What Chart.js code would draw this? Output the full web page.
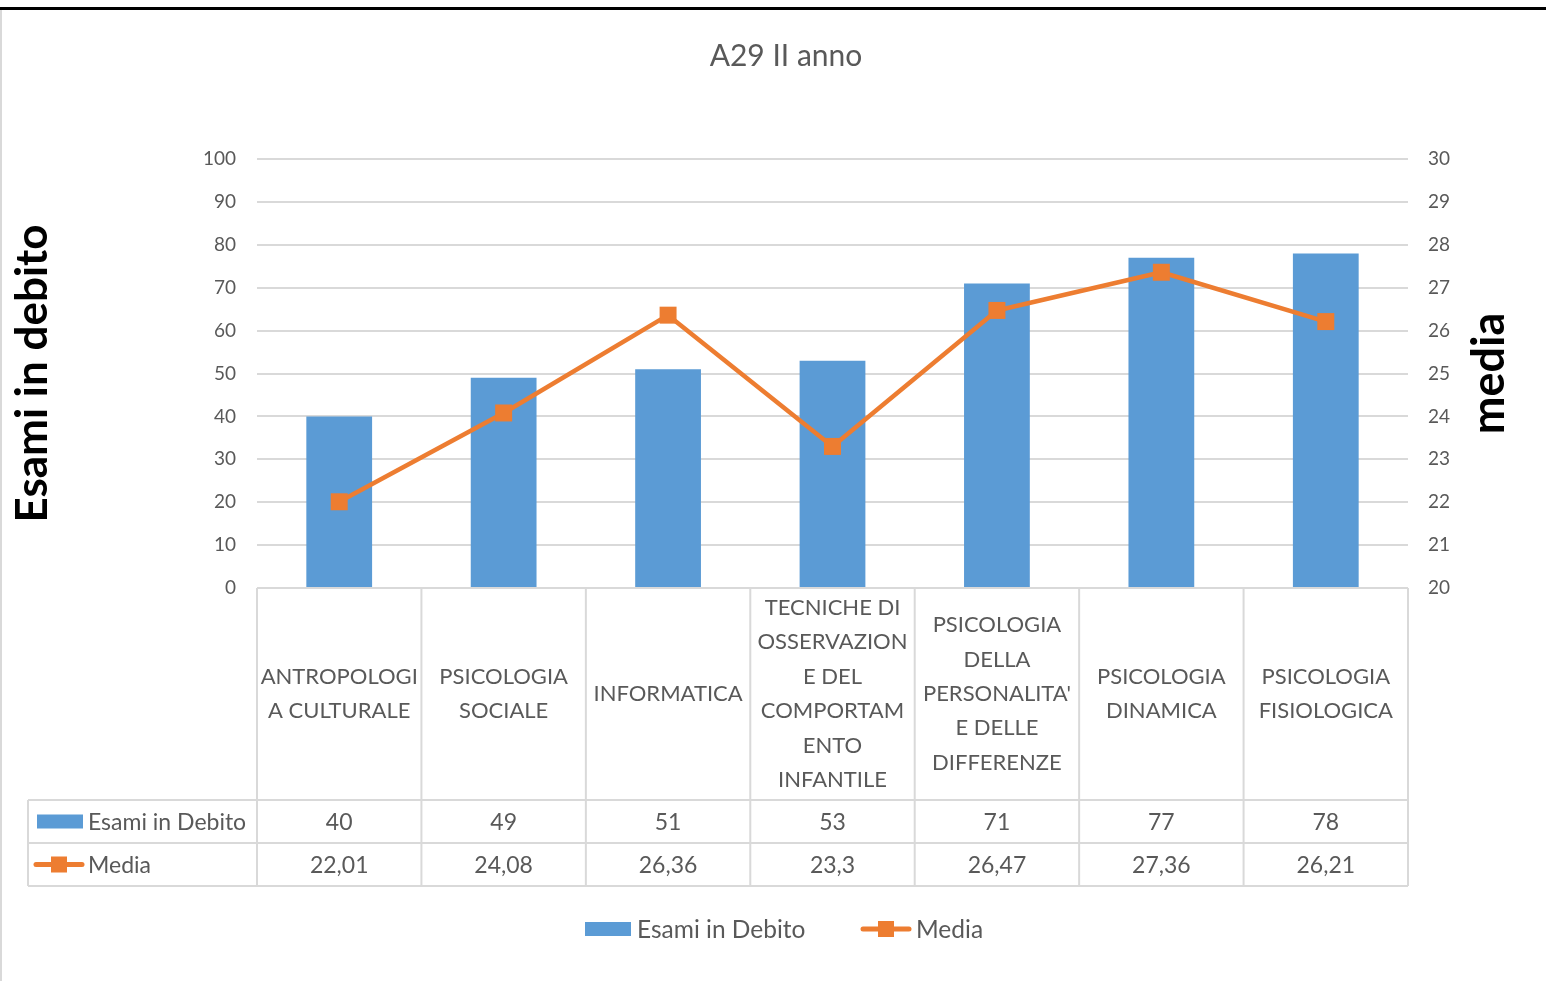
<!DOCTYPE html>
<html>
<head>
<meta charset="utf-8">
<script src="https://cdn.jsdelivr.net/npm/chart.js@4.4.0/dist/chart.umd.min.js"></script>
<style>
  html, body { margin: 0; padding: 0; background: #fff; }
  canvas { display: block; }
</style>
</head>
<body>
<canvas id="myChart" width="1546" height="981"></canvas>
<script>
// categories, split on the same lines as in the data table
const categories = [
  ["ANTROPOLOGI", "A CULTURALE"],
  ["PSICOLOGIA", "SOCIALE"],
  ["INFORMATICA"],
  ["TECNICHE DI", "OSSERVAZION", "E DEL", "COMPORTAM", "ENTO", "INFANTILE"],
  ["PSICOLOGIA", "DELLA", "PERSONALITA'", "E DELLE", "DIFFERENZE"],
  ["PSICOLOGIA", "DINAMICA"],
  ["PSICOLOGIA", "FISIOLOGICA"],
];
const esamiInDebito = [40, 49, 51, 53, 71, 77, 78];
const media = [22.01, 24.08, 26.36, 23.3, 26.47, 27.36, 26.21];
const leftTicks = [0, 10, 20, 30, 40, 50, 60, 70, 80, 90, 100];
const rightTicks = [20, 21, 22, 23, 24, 25, 26, 27, 28, 29, 30];

const BLUE = "#5B9BD5";
const ORANGE = "#ED7D31";
const TEXT = "#595959";
const GRID = "#D9D9D9";
const FONT = "Lato";

// numbers in the table use a decimal comma
function fmt(v) {
  return String(v).replace(".", ",");
}

// small legend keys (bar box / line with square marker)
function drawKey(ctx, kind, x, y) {
  ctx.save();
  if (kind === "bar") {
    ctx.fillStyle = BLUE;
    ctx.fillRect(x, y - 7, 46, 14);
  } else {
    ctx.strokeStyle = ORANGE;
    ctx.lineWidth = 5;
    ctx.lineCap = "round";
    ctx.beginPath();
    ctx.moveTo(x + 3, y);
    ctx.lineTo(x + 49, y);
    ctx.stroke();
    ctx.fillStyle = ORANGE;
    ctx.fillRect(x + 18, y - 8, 16, 16);
  }
  ctx.restore();
}

const background = {
  id: "background",
  beforeDraw(chart) {
    const ctx = chart.ctx;
    ctx.save();
    ctx.fillStyle = "#fff";
    ctx.fillRect(0, 0, chart.width, chart.height);
    // frame of the original screenshot
    ctx.fillStyle = "#000";
    ctx.fillRect(0, 7, chart.width, 3);
    ctx.fillStyle = GRID;
    ctx.fillRect(0, 10, 2, chart.height - 10);
    ctx.restore();
  },
};

// title, data table under the plot, axis titles, bottom legend
const dataTable = {
  id: "dataTable",
  afterDraw(chart) {
    const { ctx, scales } = chart;
    const x = scales.x;
    const y = scales.y;
    const n = categories.length;
    const top = y.bottom;
    const row1 = 800, row2 = 843, row3 = 886, tableLeft = 28;
    const edges = [];
    for (let i = 0; i <= n; i++) edges.push(x.getPixelForValue(i - 0.5));

    ctx.save();
    // chart title
    ctx.fillStyle = TEXT;
    ctx.textAlign = "center";
    ctx.textBaseline = "middle";
    ctx.font = "30px " + FONT;
    ctx.fillText("A29 II anno", 786, 56);

    ctx.strokeStyle = GRID;
    ctx.lineWidth = 2;
    ctx.beginPath();
    edges.forEach((ex) => { ctx.moveTo(ex, top); ctx.lineTo(ex, row3); });
    ctx.moveTo(tableLeft, row1); ctx.lineTo(tableLeft, row3);
    ctx.moveTo(edges[0], top); ctx.lineTo(edges[n], top);
    [row1, row2, row3].forEach((ry) => { ctx.moveTo(tableLeft, ry); ctx.lineTo(edges[n], ry); });
    ctx.stroke();

    // category headers
    ctx.font = "22px " + FONT;
    const lh = 34.4;
    const mid = (top + row1) / 2;
    categories.forEach((lines, i) => {
      const cx = x.getPixelForValue(i);
      const y0 = mid - ((lines.length - 1) * lh) / 2;
      lines.forEach((t, k) => ctx.fillText(t, cx, y0 + k * lh));
    });

    // values
    ctx.font = "23px " + FONT;
    esamiInDebito.forEach((v, i) => ctx.fillText(fmt(v), x.getPixelForValue(i), (row1 + row2) / 2 + 1));
    media.forEach((v, i) => ctx.fillText(fmt(v), x.getPixelForValue(i), (row2 + row3) / 2 + 1));

    // row headers
    ctx.textAlign = "left";
    drawKey(ctx, "bar", 37, (row1 + row2) / 2);
    drawKey(ctx, "line", 33, (row2 + row3) / 2);
    ctx.fillStyle = TEXT;
    ctx.fillText("Esami in Debito", 88, (row1 + row2) / 2 + 1);
    ctx.fillText("Media", 88, (row2 + row3) / 2 + 1);

    // bottom legend
    ctx.font = "24.5px " + FONT;
    drawKey(ctx, "bar", 585, 929);
    ctx.fillStyle = TEXT;
    ctx.fillText("Esami in Debito", 637, 930);
    drawKey(ctx, "line", 860, 929);
    ctx.fillStyle = TEXT;
    ctx.fillText("Media", 916, 930);

    // axis titles, both read bottom to top
    const cy = (y.top + y.bottom) / 2;
    ctx.fillStyle = "#000";
    ctx.textAlign = "center";
    ctx.font = "bold 44px " + FONT;
    ctx.translate(33, cy);
    ctx.rotate(-Math.PI / 2);
    ctx.fillText("Esami in debito", 0, 0);
    ctx.setTransform(1, 0, 0, 1, 0, 0);
    ctx.font = "bold 45px " + FONT;
    ctx.translate(1489, cy);
    ctx.rotate(-Math.PI / 2);
    ctx.fillText("media", 0, 0);
    ctx.restore();
  },
};

new Chart("myChart", {
  type: "bar",
  data: {
    labels: categories,
    datasets: [
      {
        type: "line",
        label: "Media",
        data: media,
        yAxisID: "y1",
        borderColor: ORANGE,
        backgroundColor: ORANGE,
        borderWidth: 4.5,
        borderCapStyle: "round",
        borderJoinStyle: "round",
        pointStyle: "rect",
        pointRadius: 12,
        pointHoverRadius: 12,
        pointBackgroundColor: ORANGE,
        pointBorderColor: ORANGE,
        pointBorderWidth: 0,
        tension: 0,
        order: 1,
      },
      {
        label: "Esami in Debito",
        data: esamiInDebito,
        yAxisID: "y",
        backgroundColor: BLUE,
        categoryPercentage: 1,
        barPercentage: 0.4,
        order: 2,
      },
    ],
  },
  options: {
    responsive: false,
    animation: false,
    devicePixelRatio: 1,
    layout: { padding: { top: 159, left: 0, right: 0, bottom: 385 } },
    plugins: {
      legend: { display: false },
      tooltip: { enabled: false },
      title: { display: false },
    },
    scales: {
      x: {
        ticks: { display: false },
        grid: { display: false },
        border: { display: false },
      },
      y: {
        position: "left",
        min: 0,
        max: 100,
        afterBuildTicks: (s) => { s.ticks = leftTicks.map((v) => ({ value: v })); },
        afterFit: (s) => { s.width = 257; },
        ticks: { padding: 21, color: TEXT, font: { family: FONT, size: 19 } },
        grid: { color: GRID, lineWidth: 2, drawTicks: false },
        border: { display: false },
      },
      y1: {
        position: "right",
        min: 20,
        max: 30,
        afterBuildTicks: (s) => { s.ticks = rightTicks.map((v) => ({ value: v })); },
        afterFit: (s) => { s.width = 138; },
        ticks: { padding: 20, color: TEXT, font: { family: FONT, size: 19 } },
        grid: { display: false, drawTicks: false },
        border: { display: false },
      },
    },
  },
  plugins: [background, dataTable],
});
</script>
</body>
</html>
